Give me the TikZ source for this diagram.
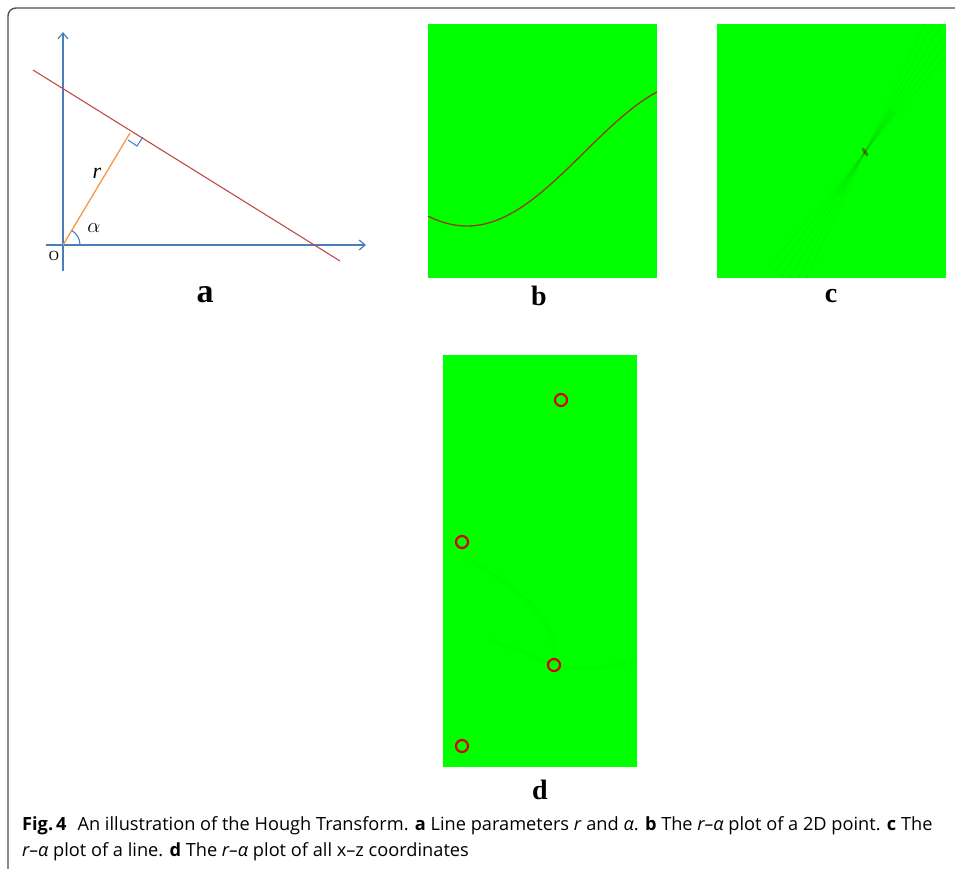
\documentclass[tikz,border=0pt]{standalone}
\usepackage{fontspec}
\setmainfont{Liberation Serif}
\newfontfamily\capfont{Open Sans}
\usetikzlibrary{arrows.meta}
\definecolor{axblue}{RGB}{74,126,187}
\definecolor{lnred}{RGB}{190,75,72}
\definecolor{rorange}{RGB}{247,150,70}
\definecolor{plotgreen}{RGB}{0,255,0}
\definecolor{curvebrown}{RGB}{150,60,20}
\definecolor{framegray}{RGB}{80,80,80}
\tikzset{
  axis/.style={draw=axblue, line width=1.2pt, -{Straight Barb[length=6pt,width=10pt]}},
  panel/.style={fill=plotgreen, draw=none},
  panellabel/.style={font=\fontsize{28}{30}\selectfont\bfseries, inner sep=0pt},
  peak/.style={draw=red!85!black, line width=2.2pt, circle, minimum size=12pt, inner sep=0pt},
  captext/.style={font=\capfont\fontsize{18.2}{20}\selectfont, anchor=west, inner sep=0pt},
  faint/.style={black, line width=1pt},
}
\begin{document}
\begin{tikzpicture}[x=1pt,y=-1pt]
\useasboundingbox (0,0) rectangle (955,868);
% frame
\draw[framegray, line width=1.4pt] (8,870) -- (8,16) arc[start angle=180,end angle=270,radius=8] -- (956,8);
% panel a
\coordinate (O) at (63,245);
\coordinate (Foot) at (130,133);
\coordinate (L1) at (33,70);
\coordinate (L2) at (340,261);
\coordinate (ybot) at (63,271);
\coordinate (ytop) at (63,32);
\coordinate (xl) at (46,245);
\coordinate (xr) at (366,245);
\draw[axis] (ybot) -- (ytop);
\draw[axis] (xl) -- (xr);
\draw[lnred, line width=1.1pt] (L1) -- (L2);
\draw[rorange, line width=1.3pt] (O) -- (Foot);
\draw[axblue, line width=1.1pt] (128,140) -- (137,146) -- (143,137);
\draw[axblue, line width=1.1pt] ([xshift=17pt]O) arc[start angle=0,end angle=-59,radius=17];
\node (rlab) at (97,173) {\fontsize{22}{24}\selectfont\itshape r};
\node (alab) at (94,228) {\fontsize{21}{23}\selectfont$\alpha$};
\node (olab) at (54,256) {\fontsize{14}{16}\selectfont O};
\node[panellabel, font=\fontsize{34}{36}\selectfont\bfseries] (la) at (205,295) {a};
% panel b
\fill[panel] (428,24) rectangle (657,278);
\draw[curvebrown, line width=1.3pt, smooth, samples=80, domain=428:657] plot (\x, {153+73*cos((\x-467)*0.77253)});
\node[panellabel] (lb) at (539,296) {b};
% panel c
\fill[panel] (717,24) rectangle (946,278);
\begin{scope}
\clip (717,24) rectangle (946,278);
\foreach \a in {-50,-53,-56,-59,-62,-65} {
  \draw[faint, opacity=0.035] (865,152) -- ++(\a:150);
  \draw[faint, opacity=0.035] (865,152) -- ++(\a+180:150);
}
\foreach \a in {-54,-57,-60} {
  \draw[faint, opacity=0.06] (865,152) -- ++(\a:50);
  \draw[faint, opacity=0.06] (865,152) -- ++(\a+180:50);
}
\fill[black!50!red, opacity=0.5] (865,152) ellipse[x radius=5, y radius=1.8, rotate=-55];
\end{scope}
\node[panellabel] (lc) at (831,296) {c};
% panel d
\fill[panel] (443,355) rectangle (637,767);
\begin{scope}
\clip (443,355) rectangle (637,767);
\draw[faint, opacity=0.02, line width=4pt] (470,560) .. controls (520,590) and (560,620) .. (554,665);
\draw[faint, opacity=0.02, line width=4pt] (490,640) .. controls (520,650) and (540,660) .. (554,665) .. controls (580,672) and (610,668) .. (637,660);
\end{scope}
\node[peak] (p1) at (561,400) {};
\node[peak] (p2) at (462,542) {};
\node[peak] (p3) at (554,665) {};
\node[peak] (p4) at (462,746) {};
\node[panellabel] (ld) at (540,790) {d};
% caption
\node[captext] (cap1) at (22,826) {\textbf{Fig.\,4}\hspace{0.6em}An illustration of the Hough Transform. \textbf{a} Line parameters \textit{r} and \textit{α}. \textbf{b} The \textit{r–α} plot of a 2D point. \textbf{c} The};
\node[captext] (cap2) at (22,852) {\textit{r–α} plot of a line. \textbf{d} The \textit{r–α} plot of all x–z coordinates};
\end{tikzpicture}
\end{document}
